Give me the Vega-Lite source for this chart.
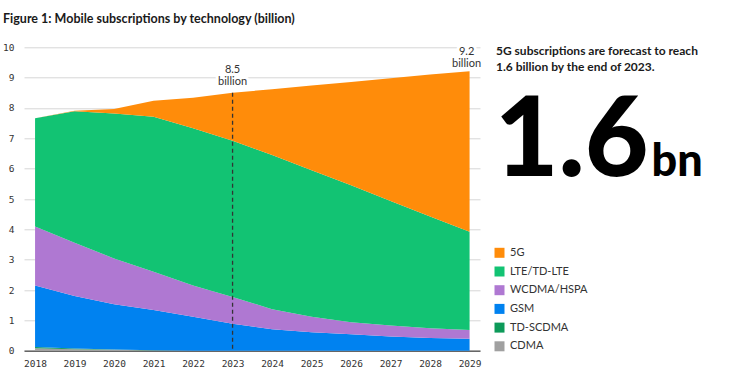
{
  "$schema": "https://vega.github.io/schema/vega-lite/v6.json",
  "width": 456,
  "height": 303.4,
  "autosize": {"type": "none"},
  "padding": {"left": 24, "top": 47.3, "right": 260, "bottom": 30.3},
  "background": "white",
  "title": {
    "text": "Figure 1: Mobile subscriptions by technology (billion)",
    "anchor": "start",
    "frame": "group",
    "dx": -21,
    "offset": 17,
    "font": "Lato",
    "fontSize": 12.5,
    "fontWeight": "bold",
    "color": "#1a1a1a"
  },
  "config": {
    "view": {"stroke": null},
    "font": "Lato",
    "axis": {"labelOverlap": false, "labelFlush": false},
    "axisY": {"labelOverlap": false}
  },
  "layer": [
    {
      "data": {
        "values": [
          {"year": 2018, "tech": "CDMA", "value": 0.08},
          {"year": 2018, "tech": "TD-SCDMA", "value": 0.04},
          {"year": 2018, "tech": "GSM", "value": 2.03},
          {"year": 2018, "tech": "WCDMA/HSPA", "value": 1.94},
          {"year": 2018, "tech": "LTE/TD-LTE", "value": 3.57},
          {"year": 2018, "tech": "5G", "value": 0},
          {"year": 2019, "tech": "CDMA", "value": 0.05},
          {"year": 2019, "tech": "TD-SCDMA", "value": 0.02},
          {"year": 2019, "tech": "GSM", "value": 1.73},
          {"year": 2019, "tech": "WCDMA/HSPA", "value": 1.76},
          {"year": 2019, "tech": "LTE/TD-LTE", "value": 4.33},
          {"year": 2019, "tech": "5G", "value": 0.02},
          {"year": 2020, "tech": "CDMA", "value": 0.03},
          {"year": 2020, "tech": "TD-SCDMA", "value": 0.01},
          {"year": 2020, "tech": "GSM", "value": 1.49},
          {"year": 2020, "tech": "WCDMA/HSPA", "value": 1.51},
          {"year": 2020, "tech": "LTE/TD-LTE", "value": 4.78},
          {"year": 2020, "tech": "5G", "value": 0.15},
          {"year": 2021, "tech": "CDMA", "value": 0.01},
          {"year": 2021, "tech": "TD-SCDMA", "value": 0.005},
          {"year": 2021, "tech": "GSM", "value": 1.325},
          {"year": 2021, "tech": "WCDMA/HSPA", "value": 1.26},
          {"year": 2021, "tech": "LTE/TD-LTE", "value": 5.11},
          {"year": 2021, "tech": "5G", "value": 0.53},
          {"year": 2022, "tech": "CDMA", "value": 0},
          {"year": 2022, "tech": "TD-SCDMA", "value": 0},
          {"year": 2022, "tech": "GSM", "value": 1.12},
          {"year": 2022, "tech": "WCDMA/HSPA", "value": 1.03},
          {"year": 2022, "tech": "LTE/TD-LTE", "value": 5.18},
          {"year": 2022, "tech": "5G", "value": 1.01},
          {"year": 2023, "tech": "CDMA", "value": 0},
          {"year": 2023, "tech": "TD-SCDMA", "value": 0},
          {"year": 2023, "tech": "GSM", "value": 0.89},
          {"year": 2023, "tech": "WCDMA/HSPA", "value": 0.88},
          {"year": 2023, "tech": "LTE/TD-LTE", "value": 5.15},
          {"year": 2023, "tech": "5G", "value": 1.58},
          {"year": 2024, "tech": "CDMA", "value": 0},
          {"year": 2024, "tech": "TD-SCDMA", "value": 0},
          {"year": 2024, "tech": "GSM", "value": 0.71},
          {"year": 2024, "tech": "WCDMA/HSPA", "value": 0.66},
          {"year": 2024, "tech": "LTE/TD-LTE", "value": 5.08},
          {"year": 2024, "tech": "5G", "value": 2.17},
          {"year": 2025, "tech": "CDMA", "value": 0},
          {"year": 2025, "tech": "TD-SCDMA", "value": 0},
          {"year": 2025, "tech": "GSM", "value": 0.61},
          {"year": 2025, "tech": "WCDMA/HSPA", "value": 0.51},
          {"year": 2025, "tech": "LTE/TD-LTE", "value": 4.83},
          {"year": 2025, "tech": "5G", "value": 2.79},
          {"year": 2026, "tech": "CDMA", "value": 0},
          {"year": 2026, "tech": "TD-SCDMA", "value": 0},
          {"year": 2026, "tech": "GSM", "value": 0.54},
          {"year": 2026, "tech": "WCDMA/HSPA", "value": 0.40},
          {"year": 2026, "tech": "LTE/TD-LTE", "value": 4.51},
          {"year": 2026, "tech": "5G", "value": 3.41},
          {"year": 2027, "tech": "CDMA", "value": 0},
          {"year": 2027, "tech": "TD-SCDMA", "value": 0},
          {"year": 2027, "tech": "GSM", "value": 0.47},
          {"year": 2027, "tech": "WCDMA/HSPA", "value": 0.36},
          {"year": 2027, "tech": "LTE/TD-LTE", "value": 4.10},
          {"year": 2027, "tech": "5G", "value": 4.05},
          {"year": 2028, "tech": "CDMA", "value": 0},
          {"year": 2028, "tech": "TD-SCDMA", "value": 0},
          {"year": 2028, "tech": "GSM", "value": 0.42},
          {"year": 2028, "tech": "WCDMA/HSPA", "value": 0.32},
          {"year": 2028, "tech": "LTE/TD-LTE", "value": 3.68},
          {"year": 2028, "tech": "5G", "value": 4.68},
          {"year": 2029, "tech": "CDMA", "value": 0},
          {"year": 2029, "tech": "TD-SCDMA", "value": 0},
          {"year": 2029, "tech": "GSM", "value": 0.39},
          {"year": 2029, "tech": "WCDMA/HSPA", "value": 0.29},
          {"year": 2029, "tech": "LTE/TD-LTE", "value": 3.24},
          {"year": 2029, "tech": "5G", "value": 5.29}
        ]
      },
      "transform": [
        {"calculate": "indexof(['CDMA','TD-SCDMA','GSM','WCDMA/HSPA','LTE/TD-LTE','5G'], datum.tech)", "as": "stackRank"}
      ],
      "mark": {"type": "area", "interpolate": "linear", "opacity": 1},
      "encoding": {
        "x": {
          "field": "year",
          "type": "quantitative",
          "scale": {"domain": [2017.72, 2029.264], "nice": false, "zero": false},
          "axis": {
            "values": [2018, 2019, 2020, 2021, 2022, 2023, 2024, 2025, 2026, 2027, 2028, 2029],
            "format": "d",
            "title": null,
            "grid": false,
            "ticks": false,
            "domain": true,
            "domainColor": "#666666",
            "domainWidth": 1.5,
            "labelFont": "DejaVu Sans Mono",
            "labelFontSize": 9.5,
            "labelColor": "#333333",
            "labelPadding": 8,
            "labelFlush": false,
            "labelOverlap": false
          }
        },
        "y": {
          "field": "value",
          "type": "quantitative",
          "stack": "zero",
          "scale": {"domain": [0, 10], "nice": false},
          "axis": {
            "values": [0, 1, 2, 3, 4, 5, 6, 7, 8, 9, 10],
            "tickCount": 11,
            "title": null,
            "ticks": false,
            "domain": false,
            "grid": true,
            "gridColor": "#d6d6d6",
            "gridWidth": 1,
            "labelFont": "DejaVu Sans Mono",
            "labelFontSize": 9.5,
            "labelColor": "#333333",
            "labelPadding": 10,
            "labelOverlap": false,
            "labelFlush": false
          }
        },
        "color": {
          "field": "tech",
          "type": "nominal",
          "scale": {
            "domain": ["5G", "LTE/TD-LTE", "WCDMA/HSPA", "GSM", "TD-SCDMA", "CDMA"],
            "range": ["#FF8C0A", "#12C373", "#AF78D2", "#0082F0", "#0D9A59", "#A0A0A0"]
          },
          "legend": {
            "title": null,
            "orient": "none",
            "legendX": 470,
            "legendY": 200,
            "symbolType": "square",
            "symbolSize": 100,
            "symbolStrokeWidth": 0,
            "symbolOpacity": 1,
            "labelFont": "Lato",
            "labelFontSize": 11,
            "labelColor": "#333333",
            "labelOffset": 5,
            "rowPadding": 6.7,
            "padding": 0
          }
        },
        "order": {"field": "stackRank", "type": "quantitative"}
      }
    },
    {
      "data": {"values": [{"year": 2023, "value": 8.5}]},
      "mark": {"type": "rule", "color": "#333333", "strokeWidth": 1.3, "strokeDash": [4, 3]},
      "encoding": {
        "x": {"field": "year", "type": "quantitative"},
        "y": {"field": "value", "type": "quantitative"},
        "y2": {"datum": 0}
      }
    },
    {
      "data": {"values": [{"year": 2023, "value": 8.5, "label": "8.5 billion"}]},
      "layer": [
        {
          "mark": {"type": "text", "lineBreak": " ", "align": "center", "baseline": "bottom", "dy": -18, "fontSize": 11, "lineHeight": 12, "stroke": "white", "strokeWidth": 6, "fill": "white"},
          "encoding": {
            "x": {"field": "year", "type": "quantitative"},
            "y": {"field": "value", "type": "quantitative"},
            "text": {"field": "label"}
          }
        },
        {
          "mark": {"type": "text", "lineBreak": " ", "align": "center", "baseline": "bottom", "dy": -18, "fontSize": 11, "lineHeight": 12, "color": "#333333"},
          "encoding": {
            "x": {"field": "year", "type": "quantitative"},
            "y": {"field": "value", "type": "quantitative"},
            "text": {"field": "label"}
          }
        }
      ]
    },
    {
      "data": {"values": [{"year": 2029, "value": 9.2, "label": "9.2 billion"}]},
      "layer": [
        {
          "mark": {"type": "text", "lineBreak": " ", "align": "center", "baseline": "bottom", "dy": -15, "dx": -3, "fontSize": 11, "lineHeight": 12, "stroke": "white", "strokeWidth": 6, "fill": "white"},
          "encoding": {
            "x": {"field": "year", "type": "quantitative"},
            "y": {"field": "value", "type": "quantitative"},
            "text": {"field": "label"}
          }
        },
        {
          "mark": {"type": "text", "lineBreak": " ", "align": "center", "baseline": "bottom", "dy": -15, "dx": -3, "fontSize": 11, "lineHeight": 12, "color": "#333333"},
          "encoding": {
            "x": {"field": "year", "type": "quantitative"},
            "y": {"field": "value", "type": "quantitative"},
            "text": {"field": "label"}
          }
        }
      ]
    },
    {
      "data": {"values": [{"label": "5G subscriptions are forecast to reach\n1.6 billion by the end of 2023."}]},
      "mark": {"type": "text", "lineBreak": "\n", "align": "left", "baseline": "alphabetic", "fontSize": 12, "fontWeight": "bold", "lineHeight": 16, "color": "#1a1a1a"},
      "encoding": {
        "x": {"datum": 2029.669, "type": "quantitative"},
        "y": {"datum": 9.746, "type": "quantitative"},
        "text": {"field": "label"}
      }
    },
    {
      "data": {"values": [{"label": "1.6"}]},
      "mark": {"type": "text", "align": "right", "baseline": "alphabetic", "fontSize": 110, "fontWeight": 900, "color": "#000000", "dx": -1},
      "encoding": {
        "x": {"datum": 2033.555, "type": "quantitative"},
        "y": {"datum": 5.758, "type": "quantitative"},
        "text": {"field": "label"}
      }
    },
    {
      "data": {"values": [{"label": "bn"}]},
      "mark": {"type": "text", "align": "left", "baseline": "alphabetic", "fontSize": 45, "fontWeight": 900, "color": "#000000", "dx": 2},
      "encoding": {
        "x": {"datum": 2033.555, "type": "quantitative"},
        "y": {"datum": 5.758, "type": "quantitative"},
        "text": {"field": "label"}
      }
    }
  ]
}
